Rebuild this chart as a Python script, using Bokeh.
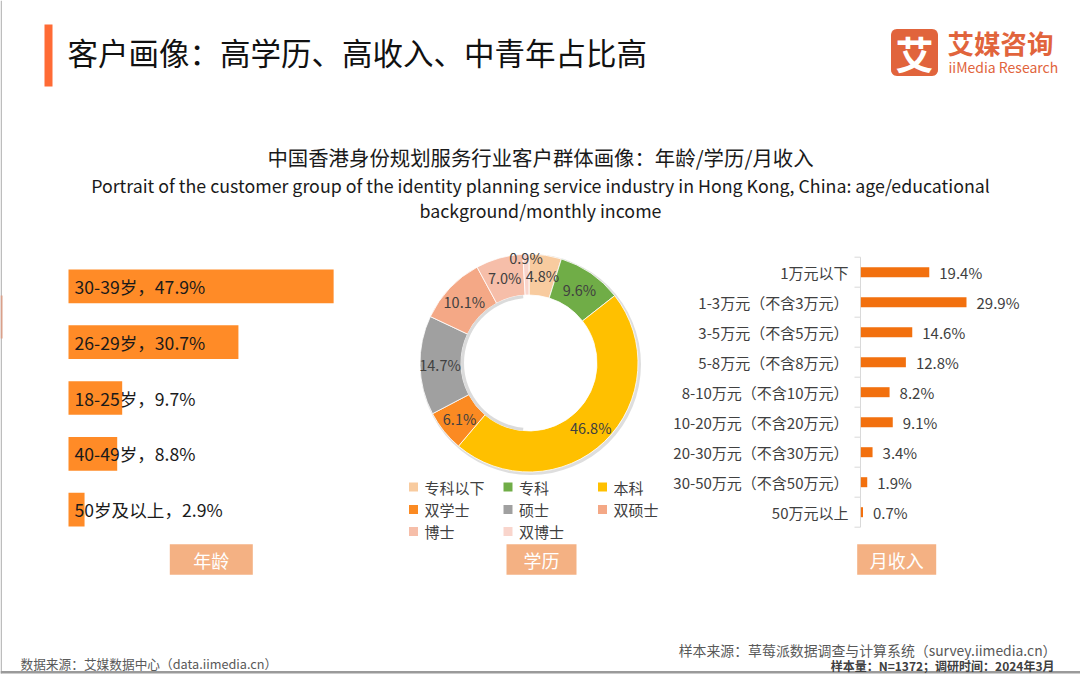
import numpy as np
from bokeh.plotting import figure
from bokeh.models import Range1d, ColumnDataSource
from bokeh.core.properties import value
from bokeh.embed import file_html
from bokeh.resources import INLINE

# ---------------- data ----------------
age_groups = ["30-39岁", "26-29岁", "18-25岁", "40-49岁", "50岁及以上"]
age_share = [47.9, 30.7, 9.7, 8.8, 2.9]

edu_levels = ["专科以下", "专科", "本科", "双学士", "硕士", "双硕士", "博士", "双博士"]
edu_share = [4.8, 9.6, 46.8, 6.1, 14.7, 10.1, 7.0, 0.9]
edu_colors = ["#F8CB9F", "#70AD47", "#FFC000", "#FB8A22", "#A0A0A0", "#F4A886", "#F6BEA9", "#F9D5CC"]

income_groups = ["1万元以下", "1-3万元（不含3万元）", "3-5万元（不含5万元）", "5-8万元（不含8万元）",
                 "8-10万元（不含10万元）", "10-20万元（不含20万元）", "20-30万元（不含30万元）",
                 "30-50万元（不含50万元）", "50万元以上"]
income_share = [19.4, 29.9, 14.6, 12.8, 8.2, 9.1, 3.4, 1.9, 0.7]

main_title = "客户画像：高学历、高收入、中青年占比高"
chart_title = "中国香港身份规划服务行业客户群体画像：年龄/学历/月收入"
chart_sub1 = "Portrait of the customer group of the identity planning service industry in Hong Kong, China: age/educational"
chart_sub2 = "background/monthly income"
panel_names = ["年龄", "学历", "月收入"]
src_left = "数据来源：艾媒数据中心（data.iimedia.cn）"
src_right1 = "样本来源：草莓派数据调查与计算系统（survey.iimedia.cn）"
src_right2 = "样本量：N=1372；调研时间：2024年3月"

# ---------------- canvas ----------------
W, H = 1080, 680
FONT = value("Noto Sans CJK SC")


def PX(x):
    return x


def PY(y):
    return H - y


def lin_range(origin, k, size):
    """value v -> local pixel origin + k*v"""
    return Range1d(start=-origin / k, end=(size - origin) / k)


p = figure(width=W, height=H, x_range=Range1d(0, W), y_range=Range1d(0, H),
           output_backend="svg", toolbar_location=None, min_border=0,
           x_axis_type=None, y_axis_type=None, outline_line_color=None,
           background_fill_color="white", border_fill_color="white")
p.grid.visible = False

p.extra_x_ranges = {
    "age_x": lin_range(PX(68), 5.535, W),
    "inc_x": lin_range(PX(860), 3.545, W),
}
p.extra_y_ranges = {
    "age_y": lin_range(PY(285.8), -55.85, H),
    "inc_y": lin_range(PY(271.7), -30.0, H),
}

# page frame remnants
p.quad(left=0, right=1.5, top=H, bottom=PY(673), fill_color="#BDBDBD", line_color=None)
p.quad(left=0, right=2, top=PY(295), bottom=PY(338), fill_color="#D9A08A", line_color=None)
p.quad(left=0, right=W, top=PY(670.5), bottom=PY(673), fill_color="#9A9A9A", line_color=None)

# ---------------- header ----------------
p.quad(left=PX(44), right=PX(52), top=PY(24), bottom=PY(86), fill_color="#FF6B35", line_color=None)
p.text(x=[PX(67)], y=[PY(51)], text=[main_title], text_font=FONT, text_font_size="30.5px",
       text_color="#111111", text_baseline="middle", text_align="left")

# logo rounded square
cx0, cy0, half, rr = PX(914), PY(52), 23.5, 6
t = np.linspace(0, np.pi / 2, 8)
xs, ys = [], []
for (ccx, ccy, a0) in [(cx0 + half - rr, cy0 + half - rr, 0), (cx0 - half + rr, cy0 + half - rr, np.pi / 2),
                       (cx0 - half + rr, cy0 - half + rr, np.pi), (cx0 + half - rr, cy0 - half + rr, 1.5 * np.pi)]:
    xs += list(ccx + rr * np.cos(t + a0))
    ys += list(ccy + rr * np.sin(t + a0))
p.patch(xs, ys, fill_color="#E1643C", line_color=None)
p.text(x=[cx0], y=[cy0], text=["艾"], text_font=FONT, text_font_size="38px", text_font_style="bold",
       text_color="white", text_align="center", text_baseline="middle")
p.text(x=[PX(947)], y=[PY(42)], text=["艾媒咨询"], text_font=FONT, text_font_size="26.5px",
       text_font_style="bold", text_color="#E1643C", text_align="left", text_baseline="middle")
p.text(x=[PX(948)], y=[PY(66.5)], text=["iiMedia Research"], text_font=FONT, text_font_size="14px",
       text_color="#E1643C", text_align="left", text_baseline="middle")

# chart titles
p.text(x=[PX(540)] * 3, y=[PY(156), PY(184), PY(209.5)], text=[chart_title, chart_sub1, chart_sub2],
       text_font=FONT, text_font_size=["20.4px", "17.8px", "17.8px"], text_color="#1a1a1a",
       text_align="center", text_baseline="middle")

# ---------------- left: age bars ----------------
age_idx = list(range(len(age_groups)))
age_src = ColumnDataSource(dict(y=age_idx, v=age_share,
                                lab=[f"{g}，{v}%" for g, v in zip(age_groups, age_share)]))
p.hbar(y="y", left=0, right="v", height=33.7 / 55.85, source=age_src, fill_color="#FF8B27",
       line_color=None, x_range_name="age_x", y_range_name="age_y")
p.text(x=0, y="y", text="lab", source=age_src, x_offset=6, text_font=FONT, text_font_size="17.6px",
       text_color="#1a1a1a", text_baseline="middle", text_align="left",
       x_range_name="age_x", y_range_name="age_y")

# ---------------- middle: education donut ----------------
cum = np.concatenate([[0], np.cumsum(edu_share)])
start = np.deg2rad(90 - 3.6 * cum[:-1])
end = np.deg2rad(90 - 3.6 * cum[1:])
mid = (start + end) / 2
dcx, dcy, r_in, r_out = PX(528.5), PY(362.5), 68, 109
# soft shadow
p.annular_wedge(x=dcx + 1.5, y=dcy - 1.5, inner_radius=r_out - 2, outer_radius=r_out + 1.5,
                start_angle=0, end_angle=2 * np.pi, fill_color="#C8C8C8", fill_alpha=0.6, line_color=None)
edu_src = ColumnDataSource(dict(s=start, e=end, c=edu_colors, name=edu_levels))
p.annular_wedge(x=dcx, y=dcy, inner_radius=r_in, outer_radius=r_out, start_angle="s", end_angle="e",
                direction="clock", fill_color="c", line_color="white", line_width=0.8, source=edu_src)
p.annular_wedge(x=dcx, y=dcy, inner_radius=r_in - 3, outer_radius=r_in,
                start_angle=np.deg2rad(95), end_angle=np.deg2rad(265), fill_color="#BDBDBD",
                fill_alpha=0.55, line_color=None)
r_lab = np.where(np.array(edu_share) < 2, r_out - 3, (r_in + r_out) / 2 + 0.5)
p.text(x=dcx + r_lab * np.cos(mid), y=dcy + r_lab * np.sin(mid),
       text=[f"{v:.1f}%" for v in edu_share], text_font=FONT, text_font_size="14.5px",
       text_color="#404040", text_align="center", text_baseline="middle")

# legend (3 columns)
leg_col_x = [PX(408.5), PX(503), PX(597.5)]
leg_row_y = [PY(486.5), PY(509), PY(531)]
lx = [leg_col_x[i % 3] for i in range(len(edu_levels))]
ly = [leg_row_y[i // 3] for i in range(len(edu_levels))]
p.rect(x=[v + 4.5 for v in lx], y=ly, width=9, height=9, fill_color=edu_colors, line_color=None)
p.text(x=[v + 15.5 for v in lx], y=ly, text=edu_levels, text_font=FONT, text_font_size="15px",
       text_color="#404040", text_align="left", text_baseline="middle")

# ---------------- right: income bars ----------------
inc_idx = list(range(len(income_groups)))
inc_src = ColumnDataSource(dict(y=inc_idx, v=income_share, cat=income_groups,
                                lab=[f"{v}%" for v in income_share]))
n_inc = len(income_groups)
p.segment(x0=0, y0=-0.5, x1=0, y1=n_inc - 0.5, line_color="#D9D9D9", line_width=1,
          x_range_name="inc_x", y_range_name="inc_y")
ticks = [k - 0.5 for k in range(n_inc + 1)]
p.segment(x0=[-6 / 3.545] * len(ticks), y0=ticks, x1=[0] * len(ticks), y1=ticks,
          line_color="#D9D9D9", line_width=1, x_range_name="inc_x", y_range_name="inc_y")
p.hbar(y="y", left=0.1, right="v", height=10 / 30, source=inc_src, fill_color="#F2700E",
       line_color=None, x_range_name="inc_x", y_range_name="inc_y")
p.text(x=0, y="y", text="cat", source=inc_src, x_offset=-12, text_font=FONT, text_font_size="15px",
       text_color="#404040", text_align="right", text_baseline="middle",
       x_range_name="inc_x", y_range_name="inc_y")
p.text(x="v", y="y", text="lab", source=inc_src, x_offset=10, text_font=FONT, text_font_size="15px",
       text_color="#404040", text_align="left", text_baseline="middle",
       x_range_name="inc_x", y_range_name="inc_y")

# ---------------- panel name boxes ----------------
box_l = [PX(169.3), PX(506), PX(856.7)]
box_r = [PX(252.3), PX(576), PX(935.7)]
p.quad(left=box_l, right=box_r, top=PY(543.8), bottom=PY(574.2), fill_color="#F4B183", line_color=None)
p.text(x=[(a + b) / 2 for a, b in zip(box_l, box_r)], y=[PY(559.5)] * 3, text=panel_names,
       text_font=FONT, text_font_size="18px", text_color="white", text_align="center",
       text_baseline="middle")

# ---------------- footer ----------------
p.text(x=[PX(20)], y=[PY(663)], text=[src_left], text_font=FONT, text_font_size="12.7px",
       text_color="#595959", text_align="left", text_baseline="middle")
p.text(x=[PX(1056)], y=[PY(649)], text=[src_right1], text_font=FONT, text_font_size="13.9px",
       text_color="#595959", text_align="right", text_baseline="middle")
p.text(x=[PX(1054)], y=[PY(664.5)], text=[src_right2], text_font=FONT, text_font_size="12px",
       text_font_style="bold", text_color="#404040", text_align="right", text_baseline="middle")

open("out.html", "w").write(file_html(p, INLINE))
